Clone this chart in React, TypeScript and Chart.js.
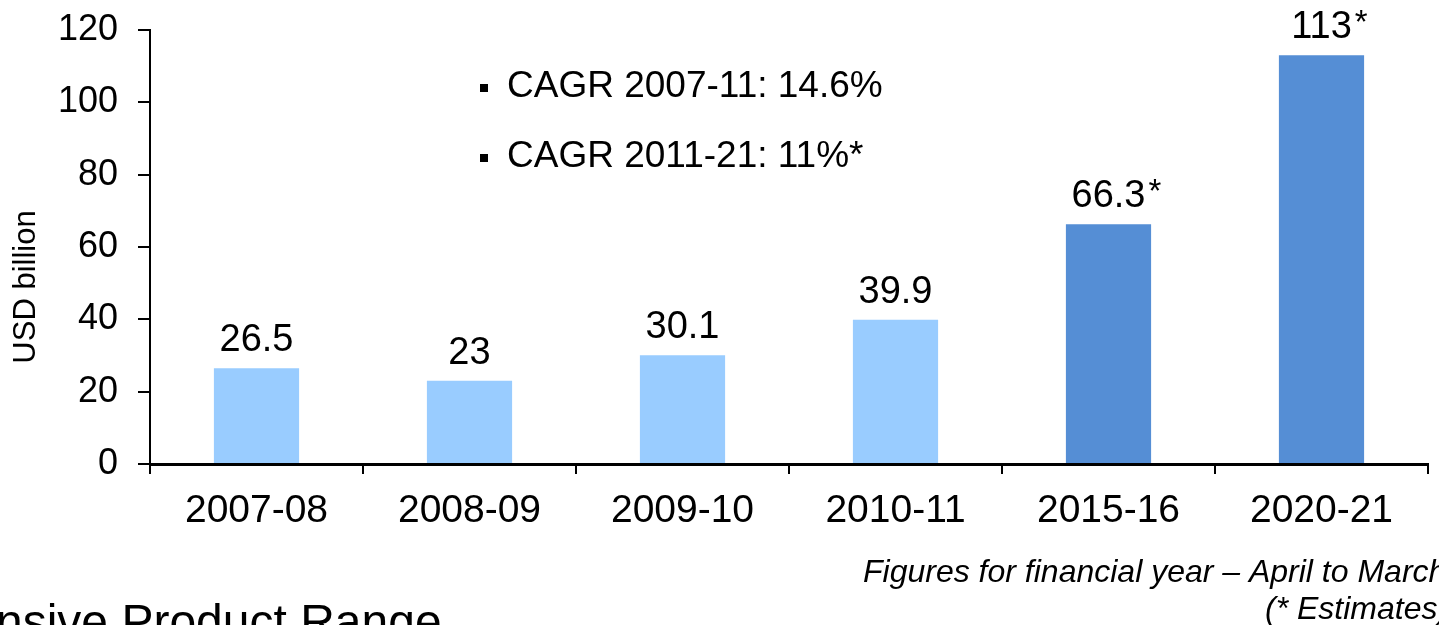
import React, { useEffect, useRef } from 'react';
import { Chart, registerables } from 'chart.js';

Chart.register(...registerables);

const FONT = "'Liberation Sans', Arial, sans-serif";

const categories = ['2007-08', '2008-09', '2009-10', '2010-11', '2015-16', '2020-21'];
const values = [26.5, 23, 30.1, 39.9, 66.3, 113];
const valueLabels = ['26.5', '23', '30.1', '39.9', '66.3', '113'];
const estimated = [false, false, false, false, true, true];
const barColors = ['#99CCFF', '#99CCFF', '#99CCFF', '#99CCFF', '#558ED5', '#558ED5'];
const yTicks = [0, 20, 40, 60, 80, 100, 120];
const cagrNotes = ['CAGR 2007-11: 14.6%', 'CAGR 2011-21: 11%*'];
const axisTitle = 'USD billion';
const footnotes = ['Figures for financial year \u2013 April to March', '(* Estimates)'];
const pageHeading = 'nsive Product Range';

const W = 1439;
const H = 625;

const annotationPlugin = {
  id: 'annotations',
  afterDraw(chart: any) {
    const ctx = chart.ctx as CanvasRenderingContext2D;
    const meta = chart.getDatasetMeta(0);
    ctx.save();
    ctx.fillStyle = '#000';

    // data labels
    ctx.font = `38px ${FONT}`;
    ctx.textBaseline = 'alphabetic';
    meta.data.forEach((bar: any, i: number) => {
      const x = bar.x;
      const y = bar.y - 17;
      ctx.textAlign = 'center';
      ctx.fillText(valueLabels[i], x, y);
      if (estimated[i]) {
        const w = ctx.measureText(valueLabels[i]).width;
        ctx.save();
        ctx.font = `33px ${FONT}`;
        ctx.textAlign = 'left';
        ctx.fillText('*', x + w / 2 + 3, y - 5);
        ctx.restore();
      }
    });

    // CAGR notes
    ctx.font = `37px ${FONT}`;
    ctx.textAlign = 'left';
    const baselines = [97, 167];
    cagrNotes.forEach((t, i) => {
      ctx.fillRect(480, baselines[i] - 13, 8, 8);
      ctx.fillText(t, 507, baselines[i]);
    });

    // y axis title
    ctx.save();
    ctx.font = `31px ${FONT}`;
    ctx.translate(35, 287);
    ctx.rotate(-Math.PI / 2);
    ctx.textAlign = 'center';
    ctx.fillText(axisTitle, 0, 0);
    ctx.restore();

    // footnotes
    ctx.font = `italic 32px ${FONT}`;
    ctx.textAlign = 'left';
    ctx.fillText(footnotes[0], 863, 582);
    ctx.fillText(footnotes[1], 1265, 619);

    // cut-off heading
    ctx.font = `48px ${FONT}`;
    ctx.fillText(pageHeading, -4, 638);

    ctx.restore();
  },
};

export default function App() {
  const ref = useRef<HTMLCanvasElement | null>(null);

  useEffect(() => {
    document.body.style.margin = '0';
    const canvas = ref.current;
    if (!canvas) return;
    const chart = new Chart(canvas, {
      type: 'bar',
      data: {
        labels: categories,
        datasets: [
          {
            data: values,
            backgroundColor: barColors,
            borderWidth: 0,
            barPercentage: 0.4,
            categoryPercentage: 1.0,
          },
        ],
      },
      options: {
        responsive: false,
        animation: false,
        devicePixelRatio: 1,
        layout: { padding: { left: 0, right: 11, top: 30, bottom: 0 } },
        plugins: {
          legend: { display: false },
          tooltip: { enabled: false },
          title: { display: false },
        },
        scales: {
          x: {
            type: 'category',
            offset: true,
            afterFit(scale: any) {
              scale.height = H - 464;
            },
            grid: {
              display: true,
              offset: true,
              drawOnChartArea: false,
              drawTicks: true,
              tickLength: 10,
              color: '#000',
              lineWidth: 2,
            },
            border: { display: true, color: '#000', width: 3 },
            ticks: {
              color: '#000',
              font: { family: FONT, size: 39 },
              padding: 14,
              maxRotation: 0,
              autoSkip: false,
            },
          },
          y: {
            min: 0,
            max: 120,
            afterFit(scale: any) {
              scale.width = 150;
            },
            afterBuildTicks(scale: any) {
              scale.ticks = yTicks.map((v) => ({ value: v }));
            },
            grid: {
              display: true,
              drawOnChartArea: false,
              drawTicks: true,
              tickLength: 12,
              color: '#000',
              lineWidth: 2,
            },
            border: { display: true, color: '#000', width: 2 },
            ticks: {
              color: '#000',
              font: { family: FONT, size: 36, lineHeight: 0.5 },
              padding: 20,
            },
          },
        },
      },
      plugins: [annotationPlugin],
    });
    return () => chart.destroy();
  }, []);

  return (
    <div style={{ width: W, height: H, overflow: 'hidden', position: 'relative', background: '#fff' }}>
      <canvas ref={ref} width={W} height={H} style={{ display: 'block' }} />
    </div>
  );
}
